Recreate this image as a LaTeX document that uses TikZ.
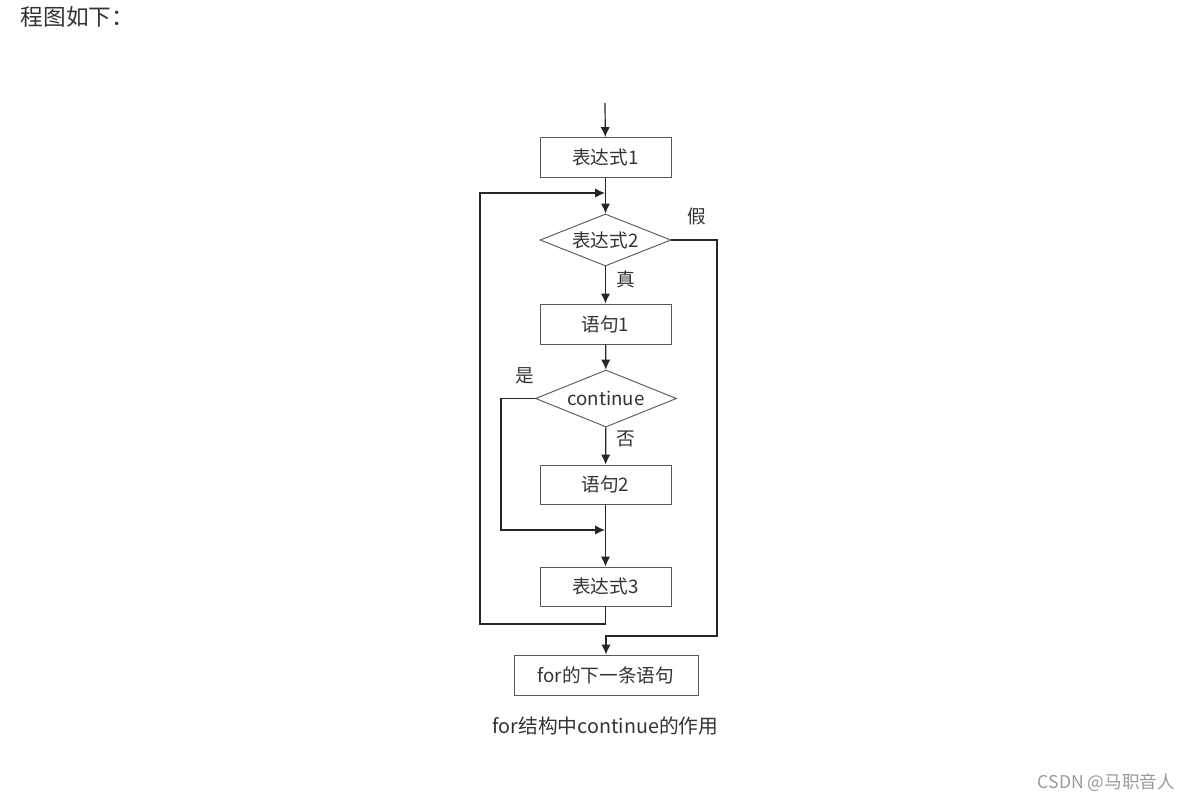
\documentclass[tikz,border=0pt]{standalone}
\usepackage{fontspec}
\setmainfont{Noto Sans CJK SC}
\usepackage{tikz}
\usetikzlibrary{arrows.meta}
\usetikzlibrary{shapes,positioning,calc}
\definecolor{textgray}{HTML}{333333}
\definecolor{boxgray}{HTML}{595959}
\definecolor{markgray}{HTML}{9A9A9A}

\begin{document}
\begin{tikzpicture}[>={Latex[length=7.5pt,width=7pt]}, x=0.75pt, y=-0.75pt,
			box/.style={draw=boxgray, line width=0.7pt, minimum width=98.25pt, minimum height=30pt, inner sep=0pt, text=textgray, font=\fontsize{14}{16}\selectfont},
			test/.style={diamond, draw=boxgray, line width=0.7pt, aspect=2.5, inner sep=0pt, text=textgray, font=\fontsize{14}{16}\selectfont},
			flow/.style={line width=0.9pt, draw=black!85},
			tag/.style={text=textgray, font=\fontsize{14}{16}\selectfont}]
			\useasboundingbox (0,0) rectangle (1190,801);
			% heading and footer
			\node[anchor=west, text=textgray, font=\fontsize{17}{20}\selectfont] (head) at (16,17) {程图如下：};
			\node[tag, font=\fontsize{14.8}{17}\selectfont] (caption) at (605.5,726) {for结构中continue的作用};
			\node[text=markgray, font=\fontsize{13.2}{15}\selectfont] (mark) at (1106.5,783) {CSDN @马职音人};
			% boxes and tests
			\node[box] (e1) at (605.5,157.5) {表达式1};
			\node[test, minimum width=98.25pt, minimum height=39pt] (d2) at (605.5,240) {表达式2};
			\node[box] (s1) at (605.5,324) {语句1};
			\node[test, minimum width=105.75pt, minimum height=42.75pt] (dc) at (606,398.5) {continue};
			\node[box, minimum height=29.25pt] (s2) at (605.5,484.5) {语句2};
			\node[box, minimum height=29.25pt] (e3) at (605.5,586.5) {表达式3};
			\node[box, minimum width=138pt] (next) at (606,675) {for的下一条语句};
			% points on the lines
			\coordinate (start) at (605,103);
			\coordinate (join1) at (605,193);
			\coordinate (join2) at (605,530);
			\coordinate (back) at (480,624);
			\coordinate (skip) at (501,530);
			\coordinate (out) at (717,636);
			% connectors
			\draw[flow, ->] (start) -- (e1);
			\draw[flow, ->] (e1) -- (d2);
			\draw[flow, ->] (d2) -- (s1);
			\draw[flow, ->] (s1) -- (dc);
			\draw[flow, ->] (dc) -- (s2);
			\draw[flow, ->] (s2) -- (e3);
			\draw[flow, ->] (dc.west) -| (skip) -- (join2);
			\draw[flow, ->] (e3.south) |- (back) |- (join1);
			\draw[flow, ->] (d2.east) -| (out) -| (next.north);
			% labels
			\node[tag] (no2) at (697,216) {假};
			\node[tag] (yes2) at (626,279) {真};
			\node[tag] (yesc) at (525,376) {是};
			\node[tag] (noc) at (626,439) {否};
			\end{tikzpicture}
\end{document}
